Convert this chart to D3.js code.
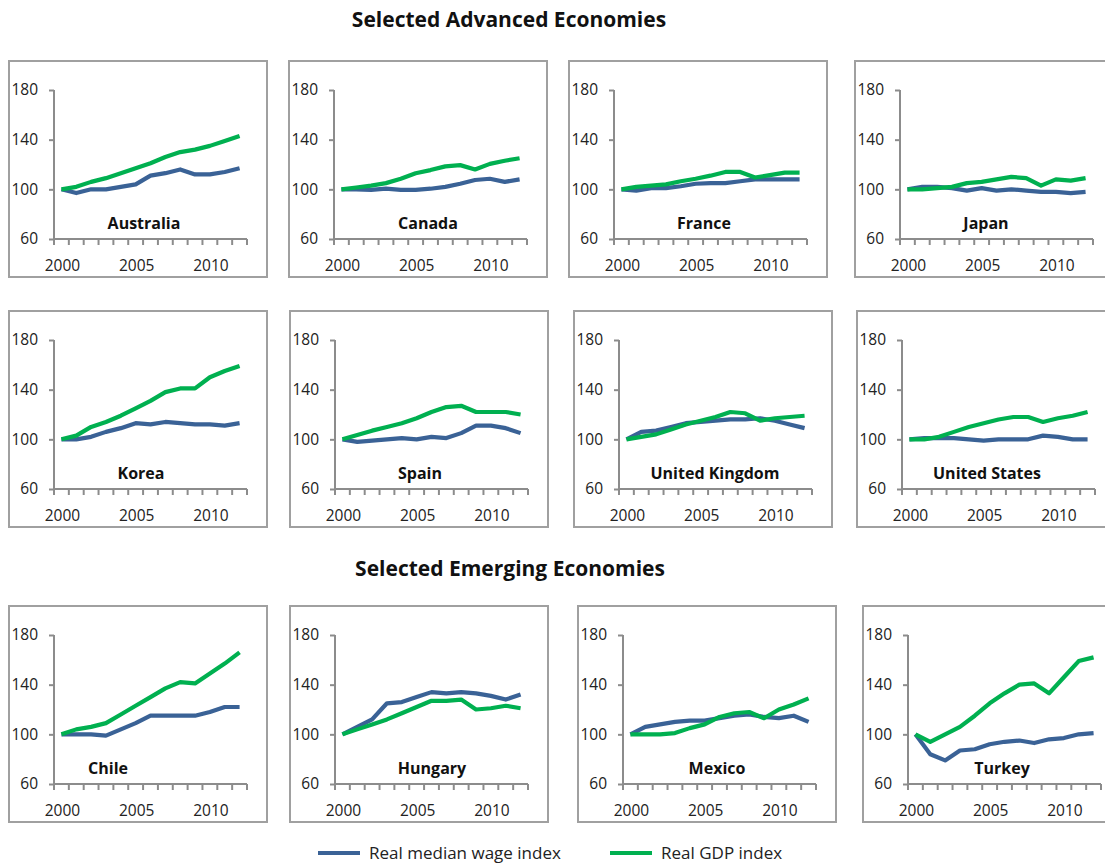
<!DOCTYPE html>
<html>
<head>
<meta charset="utf-8">
<script src="https://cdn.jsdelivr.net/npm/d3@7"></script>
<style>
  body { margin: 0; background: #fff; }
  svg { display: block; font-family: "Open Sans", Lato, sans-serif; }
</style>
</head>
<body>
<svg id="chart" width="1105" height="863"></svg>
<script>
// Years on the horizontal axis
const years = [2000, 2001, 2002, 2003, 2004, 2005, 2006, 2007, 2008, 2009, 2010, 2011, 2012];
const yTicks = [60, 100, 140, 180];
const xTickLabels = [2000, 2005, 2010];

const countries = ["Australia", "Canada", "France", "Japan",
                   "Korea", "Spain", "United Kingdom", "United States",
                   "Chile", "Hungary", "Mexico", "Turkey"];

// Real median wage index (2000 = 100)
const wageAustralia = [100, 97, 100, 100, 102, 104, 111, 113, 116, 112, 112, 114, 117];
const wageCanada    = [100, 100, 99.5, 100.5, 99.5, 99.5, 100.5, 102, 104.5, 107.5, 108.5, 106, 108];
const wageFrance    = [100, 99, 101, 101, 102.5, 104.5, 105, 105, 106.5, 108, 108, 108, 108];
const wageJapan     = [100, 102, 102, 101, 99, 101, 99, 100, 99, 98, 98, 97, 98];
const wageKorea     = [100, 100, 102, 106, 109, 113, 112, 114, 113, 112, 112, 111, 113];
const wageSpain     = [100, 98, 99, 100, 101, 100, 102, 101, 105, 111, 111, 109, 105];
const wageUK        = [100, 106, 107, 110, 113, 114, 115, 116, 116, 117, 115, 112, 109];
const wageUS        = [100, 101, 101, 101, 100, 99, 100, 100, 100, 103, 102, 100, 100];
const wageChile     = [100, 100, 100, 99, 104, 109, 115, 115, 115, 115, 118, 122, 122];
const wageHungary   = [100, 106, 112, 125, 126, 130, 134, 133, 134, 133, 131, 128, 132];
const wageMexico    = [100, 106, 108, 110, 111, 111, 113, 115, 116, 114, 113, 115, 110];
const wageTurkey    = [100, 84, 79, 87, 88, 92, 94, 95, 93, 96, 97, 100, 101];

// Real GDP index (2000 = 100)
const gdpAustralia = [100, 102, 106, 109, 113, 117, 121, 126, 130, 132, 135, 139, 143];
const gdpCanada    = [100, 101.5, 103, 105, 108.5, 113, 115.5, 118.5, 119.5, 116, 120.5, 123, 125];
const gdpFrance    = [100, 102, 103, 104, 106.5, 108.5, 111, 114, 114, 109.5, 111.5, 113.5, 113.5];
const gdpJapan     = [100, 100, 101, 102, 105, 106, 108, 110, 109, 103, 108, 107, 109];
const gdpKorea     = [100, 103, 110, 114, 119, 125, 131, 138, 141, 141, 150, 155, 159];
const gdpSpain     = [100, 103.5, 107, 110, 113, 117, 122, 126, 127, 122, 122, 122, 120];
const gdpUK        = [100, 102, 104, 108, 112, 115, 118, 122, 121, 115, 117, 118, 119];
const gdpUS        = [100, 100, 102, 106, 110, 113, 116, 118, 118, 114, 117, 119, 122];
const gdpChile     = [100, 104, 106, 109, 116, 123, 130, 137, 142, 141, 149, 157, 166];
const gdpHungary   = [100, 104, 108, 112, 117, 122, 127, 127, 128, 120, 121, 123, 121];
const gdpMexico    = [100, 100, 100, 101, 105, 108, 114, 117, 118, 113, 120, 124, 129];
const gdpTurkey    = [100, 94, 100, 106, 115, 125, 133, 140, 141, 133, 146, 159, 162];

const wageSeries = [wageAustralia, wageCanada, wageFrance, wageJapan, wageKorea, wageSpain,
                    wageUK, wageUS, wageChile, wageHungary, wageMexico, wageTurkey];
const gdpSeries = [gdpAustralia, gdpCanada, gdpFrance, gdpJapan, gdpKorea, gdpSpain,
                   gdpUK, gdpUS, gdpChile, gdpHungary, gdpMexico, gdpTurkey];

const sectionTitles = ["Selected Advanced Economies", "Selected Emerging Economies"];
const legendLabels = ["Real median wage index", "Real GDP index"];

// ---- layout ----
const FONT = "'Open Sans', Lato, sans-serif";
const WAGE_COLOR = "#3A6296";
const GDP_COLOR = "#00B050";
const BOX_W = 258, BOX_H = 216;
const PLOT_W = 193, PLOT_H = 149;
const PLOT_DX = 45, PLOT_DY = 29;
const TICK_FONT = 15.5;

// frame top-left corners for each small multiple
const frames = [
  [9, 61], [289, 61], [569, 61], [855, 61],
  [9, 311], [290, 311], [574, 311], [857, 311],
  [9, 606], [290, 606], [578, 606], [863, 606]
];
// horizontal centre of the country name, relative to plot left; baseline relative to plot top
const labelDX = [90, 94, 90, 86, 87, 85, 96, 85, 54, 97, 94, 94];
const LABEL_DY = 139;

const svg = d3.select("#chart");

const x = d3.scaleBand().domain(years).range([0, PLOT_W]).padding(0);
const y = d3.scaleLinear().domain([60, 180]).range([PLOT_H, 0]);
const cx = d => x(d) + x.bandwidth() / 2;

const line = d3.line()
  .x((d, i) => cx(years[i]))
  .y(d => y(d));

countries.forEach((name, k) => {
  const [bx, by] = frames[k];
  const g = svg.append("g").attr("transform", `translate(${bx},${by})`);

  g.append("rect")
    .attr("x", 0).attr("y", 0)
    .attr("width", BOX_W).attr("height", BOX_H)
    .attr("fill", "#fff")
    .attr("stroke", "#A0A0A0")
    .attr("stroke-width", 2);

  const p = g.append("g").attr("transform", `translate(${PLOT_DX},${PLOT_DY})`);

  // y axis
  const yAxis = p.append("g")
    .call(d3.axisLeft(y).tickValues(yTicks).tickSize(5).tickPadding(11).tickSizeOuter(0));
  yAxis.select(".domain").attr("stroke", "#8C8C8C").attr("stroke-width", 2)
    .attr("d", `M0,0V${PLOT_H}`);
  yAxis.selectAll(".tick line").attr("stroke", "#8C8C8C").attr("stroke-width", 2);
  yAxis.selectAll(".tick text")
    .attr("font-size", TICK_FONT).attr("font-family", FONT).attr("fill", "#222");

  // x axis: ticks on band boundaries
  const xAxis = p.append("g").attr("transform", `translate(0,${PLOT_H})`);
  xAxis.append("path")
    .attr("d", `M0,0H${PLOT_W}`)
    .attr("stroke", "#8C8C8C").attr("stroke-width", 2).attr("fill", "none");
  const edges = years.map(yr => x(yr)).concat([x(years[years.length - 1]) + x.bandwidth()]);
  xAxis.selectAll("line.tk").data(edges).join("line")
    .attr("class", "tk")
    .attr("x1", d => d).attr("x2", d => d)
    .attr("y1", 0).attr("y2", 6)
    .attr("stroke", "#8C8C8C").attr("stroke-width", 2);
  xAxis.selectAll("text").data(xTickLabels).join("text")
    .attr("x", d => cx(d) + 1)
    .attr("y", 32)
    .attr("text-anchor", "middle")
    .attr("font-size", TICK_FONT)
    .attr("fill", "#222")
    .text(d => d);

  // series lines
  p.append("path")
    .datum(wageSeries[k])
    .attr("d", line)
    .attr("fill", "none")
    .attr("stroke", WAGE_COLOR)
    .attr("stroke-width", 4.2)
    .attr("stroke-linejoin", "round");
  p.append("path")
    .datum(gdpSeries[k])
    .attr("d", line)
    .attr("fill", "none")
    .attr("stroke", GDP_COLOR)
    .attr("stroke-width", 4.2)
    .attr("stroke-linejoin", "round");

  // country name
  p.append("text")
    .attr("x", labelDX[k])
    .attr("y", LABEL_DY)
    .attr("text-anchor", "middle")
    .attr("font-size", 16)
    .attr("font-weight", "bold")
    .attr("fill", "#111")
    .text(name);
});

// section titles
svg.append("text")
  .attr("x", 509).attr("y", 27)
  .attr("text-anchor", "middle")
  .attr("font-size", 21).attr("font-weight", "bold").attr("fill", "#111")
  .text(sectionTitles[0]);
svg.append("text")
  .attr("x", 510).attr("y", 576)
  .attr("text-anchor", "middle")
  .attr("font-size", 21).attr("font-weight", "bold").attr("fill", "#111")
  .text(sectionTitles[1]);

// legend
const legend = svg.append("g");
const legendX = [318, 610];
const legendColors = [WAGE_COLOR, GDP_COLOR];
legendLabels.forEach((lab, i) => {
  legend.append("line")
    .attr("x1", legendX[i]).attr("x2", legendX[i] + 42)
    .attr("y1", 853).attr("y2", 853)
    .attr("stroke", legendColors[i]).attr("stroke-width", 4);
  legend.append("text")
    .attr("x", legendX[i] + 51).attr("y", 859)
    .attr("font-size", 17).attr("fill", "#222")
    .text(lab);
});
</script>
</body>
</html>
